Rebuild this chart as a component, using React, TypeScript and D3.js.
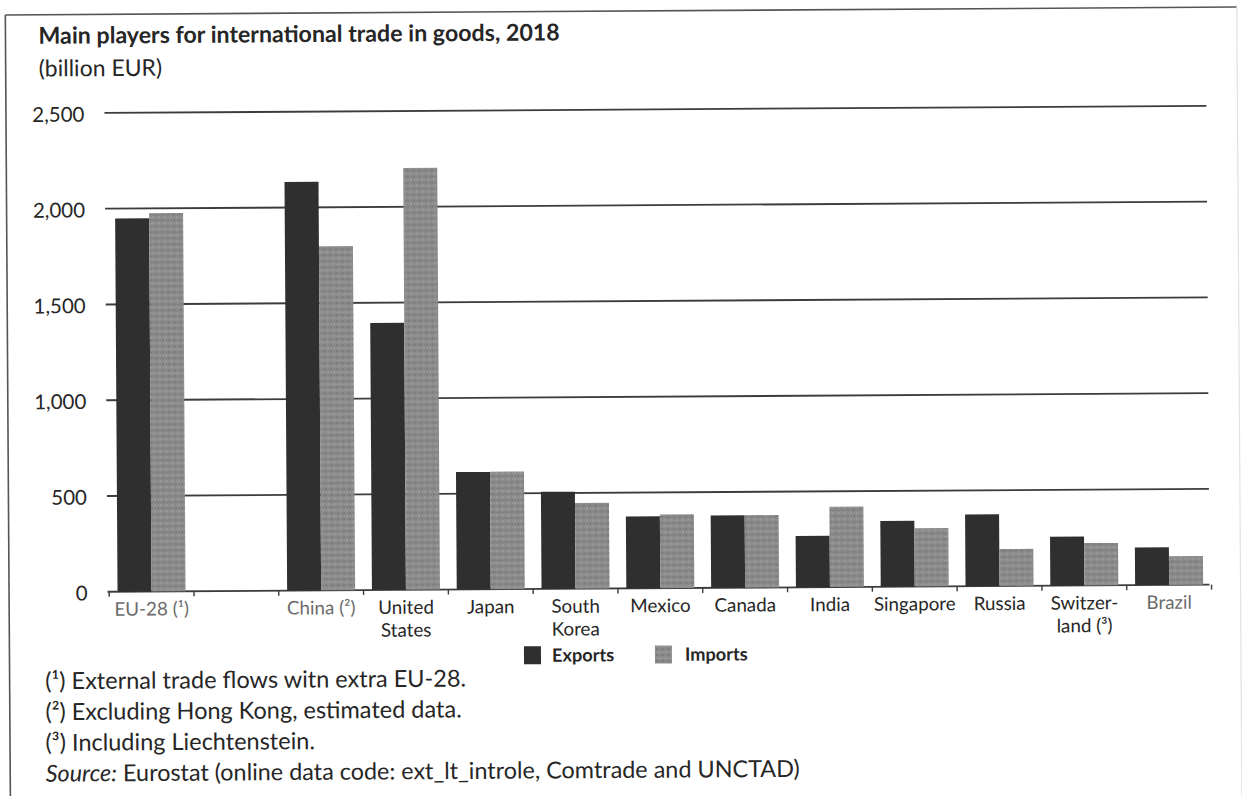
import React from "react";
import * as d3 from "d3";

// Trade in goods, 2018 (billion EUR)
const categories = [
  "EU-28", "gap", "China", "United States", "Japan", "South Korea", "Mexico",
  "Canada", "India", "Singapore", "Russia", "Switzerland", "Brazil",
];
const categoryLabels: string[][] = [
  ["EU-28 (¹)"], [], ["China (²)"], ["United", "States"], ["Japan"], ["South", "Korea"],
  ["Mexico"], ["Canada"], ["India"], ["Singapore"], ["Russia"], ["Switzer-", "land (³)"], ["Brazil"],
];
const mutedLabels = ["EU-28", "China", "Brazil"];
const exportsValues: (number | null)[] = [1949, null, 2134, 1395, 613, 507, 376, 378, 268, 344, 374, 255, 196];
const importsValues: (number | null)[] = [1975, null, 1797, 2203, 614, 448, 385, 378, 419, 305, 193, 221, 150];
const seriesNames = ["Exports", "Imports"];
const yTicks = [0, 500, 1000, 1500, 2000, 2500];
const footnotes = [
  "(¹) External trade flows witn extra EU-28.",
  "(²) Excluding Hong Kong, estimated data.",
  "(³) Including Liechtenstein.",
];

const W = 1242;
const H = 796;
const FONT = "Lato, 'Open Sans', sans-serif";
const INK = "#262626";

export default function App() {
  const x = d3.scaleBand<string>().domain(categories).range([107.6, 1210]).padding(0);
  const step = x.bandwidth();
  const barW = 34;
  const sub = d3
    .scaleBand<string>()
    .domain(seriesNames)
    .range([step / 2 - barW, step / 2 + barW])
    .padding(0);
  const y = d3.scaleLinear().domain([0, 2500]).range([588.2, 109.4]);
  const gridX0 = 106;
  const gridX1 = 1208;

  const series = [
    { name: "Exports", values: exportsValues, fill: "#2f2f2f" },
    { name: "Imports", values: importsValues, fill: "url(#importsTexture)" },
  ];

  const boundaries = d3.range(categories.length + 1).map((i) => x.range()[0] + i * step);

  return (
    <svg
      width={W}
      height={H}
      viewBox={`0 0 ${W} ${H}`}
      style={{ position: "absolute", left: 0, top: 0, background: "#fff" }}
    >
      <defs>
        <pattern id="importsTexture" width={6} height={6} patternUnits="userSpaceOnUse">
          <rect width={6} height={6} fill="#8b8b8b" />
          <rect x={0} y={0} width={2} height={2} fill="#7a7a7a" />
          <rect x={3} y={3} width={2} height={2} fill="#9a9a9a" />
          <rect x={4} y={1} width={1} height={1} fill="#737373" />
          <rect x={1} y={4} width={1} height={1} fill="#a1a1a1" />
        </pattern>
      </defs>
      <rect width={W} height={H} fill="#fff" />
      <g transform="rotate(-0.37 657 350)">
        {/* frame */}
        <line x1={7.5} y1={10.8} x2={1239} y2={10.8} stroke="#555" strokeWidth={1.6} />
        <line x1={7.5} y1={10.8} x2={7.5} y2={810} stroke="#555" strokeWidth={1.6} />
        <line x1={1239} y1={10.8} x2={1239} y2={810} stroke="#e2e2e2" strokeWidth={1.2} />

        {/* titles */}
        <text x={40.5} y={39.8} fontFamily={FONT} fontWeight={700} fontSize={23.2} fill={INK}>
          Main players for international trade in goods, 2018
        </text>
        <text x={40.5} y={72.5} fontFamily={FONT} fontSize={23} fill={INK}>
          (billion EUR)
        </text>

        {/* gridlines and y labels */}
        {yTicks.map((t) => (
          <g key={t}>
            <line x1={gridX0} x2={gridX1} y1={y(t)} y2={y(t)} stroke="#3c3c3c" strokeWidth={1.8} />
            <text
              x={86}
              y={y(t) + 8.5}
              textAnchor="end"
              fontFamily={FONT}
              fontSize={20.5}
              fill={INK}
            >
              {d3.format(",")(t)}
            </text>
          </g>
        ))}

        {/* axis ticks */}
        {boundaries.map((bx, i) => (
          <line key={i} x1={bx} x2={bx} y1={y(0)} y2={y(0) + 5} stroke="#3c3c3c" strokeWidth={1.4} />
        ))}

        {/* bars */}
        {series.map((s) =>
          categories.map((c, i) => {
            const v = s.values[i];
            if (v == null) return null;
            const bx = (x(c) as number) + (sub(s.name) as number);
            return (
              <rect
                key={s.name + c}
                x={bx}
                y={y(v)}
                width={sub.bandwidth()}
                height={y(0) - y(v)}
                fill={s.fill}
              />
            );
          })
        )}

        {/* category labels */}
        {categories.map((c, i) => (
          <text
            key={c}
            x={(x(c) as number) + step / 2}
            y={y(0) + 24}
            textAnchor="middle"
            fontFamily={FONT}
            fontSize={18.8}
            fill={mutedLabels.includes(c) ? "#6b6b6b" : INK}
          >
            {categoryLabels[i].map((line, k) => (
              <tspan key={k} x={(x(c) as number) + step / 2} dy={k === 0 ? 0 : 22.8}>
                {line}
              </tspan>
            ))}
          </text>
        ))}

        {/* legend */}
        <rect x={522} y={645.5} width={17} height={18} fill="#2f2f2f" />
        <text x={550} y={661} fontFamily={FONT} fontWeight={700} fontSize={18.2} fill={INK}>
          Exports
        </text>
        <rect x={653} y={645.5} width={17} height={18} fill="url(#importsTexture)" />
        <text x={683} y={661} fontFamily={FONT} fontWeight={700} fontSize={18.2} fill={INK}>
          Imports
        </text>

        {/* notes */}
        {footnotes.map((f, i) => (
          <text key={i} x={43} y={685.3 + i * 30.8} fontFamily={FONT} fontSize={23.5} fill={INK}>
            {f}
          </text>
        ))}
        <text x={43} y={685.3 + 3 * 30.8} fontFamily={FONT} fontSize={23.4} fill={INK}>
          <tspan fontStyle="italic">Source:</tspan> Eurostat (online data code: ext_lt_introle, Comtrade and UNCTAD)
        </text>
      </g>
    </svg>
  );
}
